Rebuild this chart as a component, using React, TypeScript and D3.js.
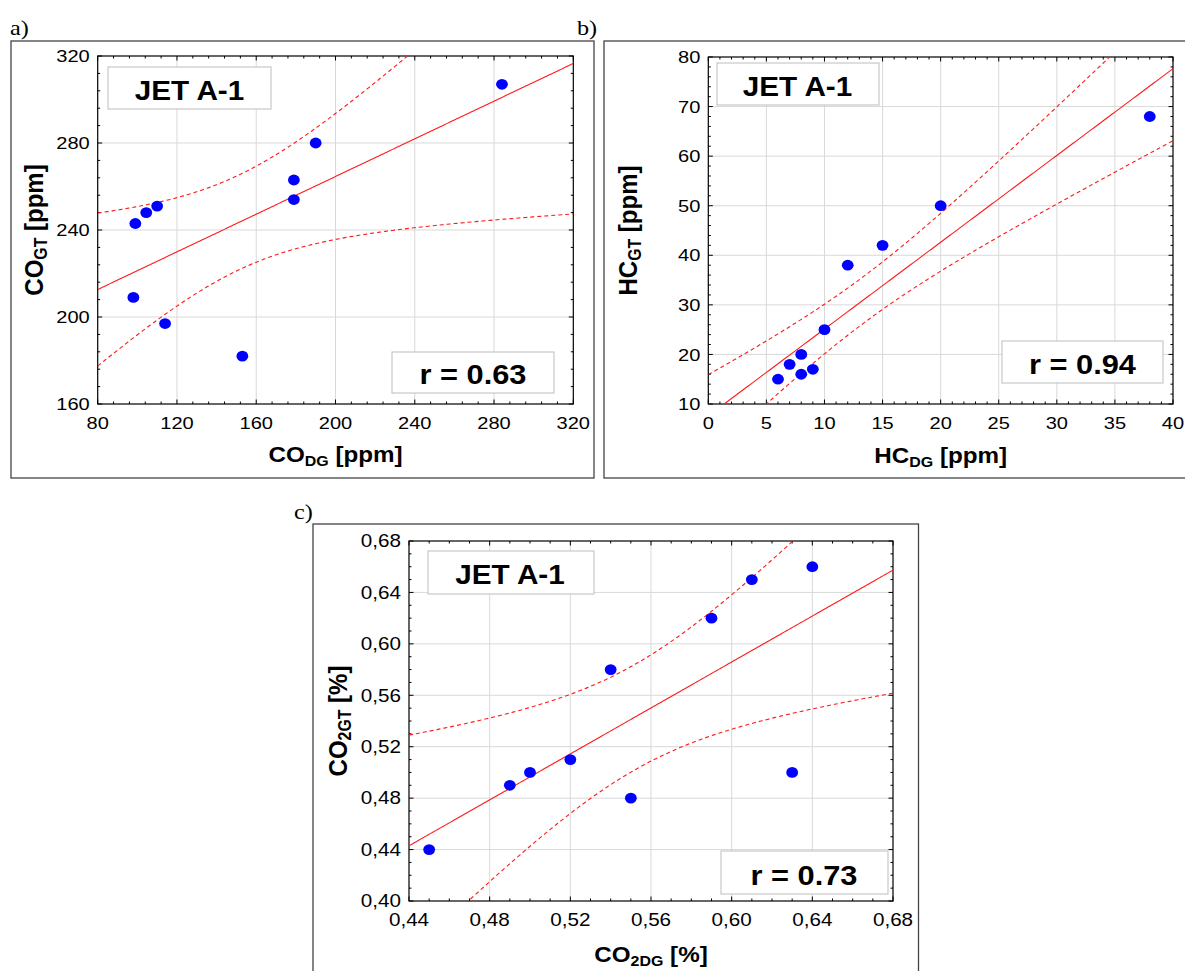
import React from 'react';
import * as d3 from 'd3';

// panel a: CO
const coDG = [284, 190, 179, 179, 110, 104.5, 99, 98, 114, 153];
const coGT = [307, 280, 263, 254, 251, 248, 243, 209, 197, 182];
const coTicksX = [80, 120, 160, 200, 240, 280, 320];
const coTicksY = [160, 200, 240, 280, 320];

// panel b: HC
const hcDG = [38, 20, 15, 12, 10, 8, 7, 9, 8, 6];
const hcGT = [68, 50, 42, 38, 25, 20, 18, 17, 16, 15];
const hcTicksX = [0, 5, 10, 15, 20, 25, 30, 35, 40];
const hcTicksY = [10, 20, 30, 40, 50, 60, 70, 80];

// panel c: CO2
const co2DG = [0.45, 0.49, 0.5, 0.52, 0.54, 0.55, 0.59, 0.61, 0.64, 0.63];
const co2GT = [0.44, 0.49, 0.5, 0.51, 0.58, 0.48, 0.62, 0.65, 0.66, 0.5];
const co2TicksX = [0.44, 0.48, 0.52, 0.56, 0.6, 0.64, 0.68];
const co2TicksY = [0.4, 0.44, 0.48, 0.52, 0.56, 0.6, 0.64, 0.68];

const panelNames = ['a)', 'b)', 'c)'];
const rLabels = ['r = 0.63', 'r = 0.94', 'r = 0.73'];
const fuel = 'JET A-1';

const T95 = 2.306; // t(0.975, df = 8)
const SX = 1.1; // the source picture is a bit stretched sideways
const SXT = 1.18; // tick labels look wider still
const FONT = '"Liberation Sans", Arial, sans-serif';

// linear fit + 95% band of the mean
function fit(xs: number[], ys: number[]) {
  const n = xs.length;
  const mx = d3.mean(xs)!;
  const my = d3.mean(ys)!;
  const sxx = d3.sum(xs, (x) => (x - mx) ** 2);
  const sxy = d3.sum(xs.map((x, i) => (x - mx) * (ys[i] - my)));
  const b = sxy / sxx;
  const a = my - b * mx;
  const sse = d3.sum(xs.map((x, i) => (ys[i] - a - b * x) ** 2));
  const s = Math.sqrt(sse / (n - 2));
  const half = (x: number) => T95 * s * Math.sqrt(1 / n + (x - mx) ** 2 / sxx);
  return { a, b, half };
}

const comma = (d: number) => d.toFixed(2).replace('.', ',');

const panels = [
  {
    xs: coDG, ys: coGT, tx: coTicksX, ty: coTicksY, fmt: d3.format('d'), sub: 5, fs: 17,
    frame: { x: 11, y: 41, w: 583, h: 437 },
    plot: { l: 97.7, r: 573.3, t: 56, b: 404 },
    label: [10, 35], yTitleX: 43, xTitleY: 462,
    xt: ['CO', 'DG', ' [ppm]'], yt: ['CO', 'GT', ' [ppm]'],
    jet: { x: 108, y: 67, w: 163, h: 42, tx: 189.5, ty: 100 },
    rb: { x: 392, y: 352, w: 162, h: 41, tx: 473, ty: 384 },
  },
  {
    xs: hcDG, ys: hcGT, tx: hcTicksX, ty: hcTicksY, fmt: d3.format('d'), sub: 5, fs: 17,
    frame: { x: 604, y: 41, w: 600, h: 437 },
    plot: { l: 708.3, r: 1173, t: 57, b: 404 },
    label: [577, 35], yTitleX: 637, xTitleY: 463,
    xt: ['HC', 'DG', ' [ppm]'], yt: ['HC', 'GT', ' [ppm]'],
    jet: { x: 717, y: 63, w: 162, h: 42, tx: 797.5, ty: 96 },
    rb: { x: 1002, y: 341, w: 161, h: 42, tx: 1082.5, ty: 374 },
  },
  {
    xs: co2DG, ys: co2GT, tx: co2TicksX, ty: co2TicksY, fmt: comma, sub: 4, fs: 17.5,
    frame: { x: 313, y: 524, w: 605.5, h: 470 },
    plot: { l: 409, r: 893, t: 541, b: 901 },
    label: [294, 519], yTitleX: 347, xTitleY: 962,
    xt: ['CO', '2DG', ' [%]'], yt: ['CO', '2GT', ' [%]'],
    jet: { x: 428, y: 551, w: 166, h: 43, tx: 510, ty: 584 },
    rb: { x: 721, y: 851, w: 167, h: 43, tx: 804, ty: 885 },
  },
];

function minors(ticks: number[], n: number) {
  const out: number[] = [];
  for (let i = 0; i < ticks.length - 1; i++) {
    const step = (ticks[i + 1] - ticks[i]) / n;
    for (let k = 1; k < n; k++) out.push(ticks[i] + k * step);
  }
  return out;
}

function Title({ parts, x, y, rotate }: { parts: string[]; x: number; y: number; rotate?: boolean }) {
  const tr = `translate(${x},${y}) scale(${SX},1)` + (rotate ? ' rotate(-90)' : '');
  const fs = rotate ? 24 : 22;
  return (
    <text transform={tr} textAnchor="middle" fontFamily={FONT} fontWeight="bold" fontSize={fs}>
      <tspan>{parts[0]}</tspan>
      <tspan fontSize={fs * 0.66} dy={4}>{parts[1]}</tspan>
      <tspan dy={-4}>{parts[2]}</tspan>
    </text>
  );
}

function Panel({ p, idx }: { p: (typeof panels)[number]; idx: number }) {
  const x = d3.scaleLinear().domain(d3.extent(p.tx) as [number, number]).range([p.plot.l, p.plot.r]);
  const y = d3.scaleLinear().domain(d3.extent(p.ty) as [number, number]).range([p.plot.b, p.plot.t]);
  const f = fit(p.xs, p.ys);
  const [x0, x1] = x.domain();
  const grid = d3.range(0, 201).map((i) => x0 + ((x1 - x0) * i) / 200);
  const mid = d3.line<number>().x((d) => x(d)).y((d) => y(f.a + f.b * d))(grid);
  const up = d3.line<number>().x((d) => x(d)).y((d) => y(f.a + f.b * d + f.half(d)))(grid);
  const lo = d3.line<number>().x((d) => x(d)).y((d) => y(f.a + f.b * d - f.half(d)))(grid);
  const clip = `clip-${idx}`;
  const { l, r, t, b } = p.plot;
  const mx = minors(p.tx, p.sub);
  const my = minors(p.ty, p.sub);

  return (
    <g>
      <rect x={p.frame.x} y={p.frame.y} width={p.frame.w} height={p.frame.h} fill="#fff" stroke="#444" strokeWidth={1.3} />
      <text transform={`translate(${p.label[0]},${p.label[1]}) scale(${SX},1)`} fontFamily='"Liberation Serif", "Times New Roman", serif' fontSize={22}>
        {panelNames[idx]}
      </text>
      <defs>
        <clipPath id={clip}>
          <rect x={l} y={t} width={r - l} height={b - t} />
        </clipPath>
      </defs>
      {/* grid */}
      {p.tx.slice(1, -1).map((d) => (
        <line key={'gx' + d} x1={x(d)} x2={x(d)} y1={t} y2={b} stroke="#d9d9d9" />
      ))}
      {p.ty.slice(1, -1).map((d) => (
        <line key={'gy' + d} y1={y(d)} y2={y(d)} x1={l} x2={r} stroke="#d9d9d9" />
      ))}
      {/* ticks, inward on all sides */}
      {[...p.tx.map((d) => [d, 4.5]), ...mx.map((d) => [d, 2.5])].map(([d, len], i) => (
        <g key={'tx' + i} stroke="#000">
          <line x1={x(d)} x2={x(d)} y1={b} y2={b - len} />
          <line x1={x(d)} x2={x(d)} y1={t} y2={t + len} />
        </g>
      ))}
      {[...p.ty.map((d) => [d, 4.5]), ...my.map((d) => [d, 2.5])].map(([d, len], i) => (
        <g key={'ty' + i} stroke="#000">
          <line y1={y(d)} y2={y(d)} x1={l} x2={l + len} />
          <line y1={y(d)} y2={y(d)} x1={r} x2={r - len} />
        </g>
      ))}
      <rect x={l} y={t} width={r - l} height={b - t} fill="none" stroke="#000" strokeWidth={1.2} />
      {/* tick labels */}
      {p.tx.map((d) => (
        <text key={'lx' + d} transform={`translate(${x(d)},${b + 25}) scale(${SXT},1)`} textAnchor="middle" fontFamily={FONT} fontSize={p.fs}>
          {p.fmt(d)}
        </text>
      ))}
      {p.ty.map((d) => (
        <text key={'ly' + d} transform={`translate(${l - 8},${y(d) + p.fs * 0.36}) scale(${SXT},1)`} textAnchor="end" fontFamily={FONT} fontSize={p.fs}>
          {p.fmt(d)}
        </text>
      ))}
      <Title parts={p.xt} x={(l + r) / 2} y={p.xTitleY} />
      <Title parts={p.yt} x={p.yTitleX} y={(t + b) / 2} rotate />
      {/* annotation boxes */}
      <rect x={p.jet.x} y={p.jet.y} width={p.jet.w} height={p.jet.h} fill="#fff" stroke="#bdbdbd" />
      <text transform={`translate(${p.jet.tx},${p.jet.ty}) scale(${SX},1)`} textAnchor="middle" fontFamily={FONT} fontWeight="bold" fontSize={27}>
        {fuel}
      </text>
      <rect x={p.rb.x} y={p.rb.y} width={p.rb.w} height={p.rb.h} fill="#fff" stroke="#bdbdbd" />
      <text transform={`translate(${p.rb.tx},${p.rb.ty}) scale(${SX},1)`} textAnchor="middle" fontFamily={FONT} fontWeight="bold" fontSize={28}>
        {rLabels[idx]}
      </text>
      {/* fit and confidence band */}
      <g clipPath={`url(#${clip})`} fill="none">
        <path d={mid!} stroke="#ff1a1a" strokeWidth={1.1} />
        <path d={up!} stroke="#ff1a1a" strokeWidth={1.1} strokeDasharray="4,3" />
        <path d={lo!} stroke="#ff1a1a" strokeWidth={1.1} strokeDasharray="4,3" />
      </g>
      {p.xs.map((d, i) => (
        <ellipse key={'pt' + i} cx={x(d)} cy={y(p.ys[i])} rx={5.9} ry={5.4} fill="#0000ff" />
      ))}
    </g>
  );
}

export default function App() {
  return (
    <div style={{ position: 'absolute', left: 0, top: 0 }}>
      <svg width={1185} height={971} style={{ display: 'block', background: '#fff' }}>
        {panels.map((p, i) => (
          <Panel key={i} p={p} idx={i} />
        ))}
      </svg>
    </div>
  );
}
